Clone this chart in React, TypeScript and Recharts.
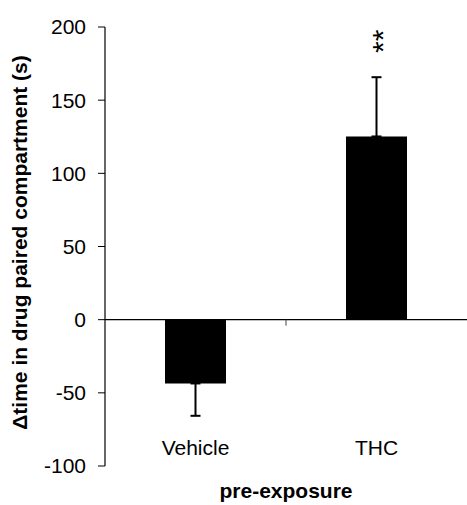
import React from 'react';
import { BarChart, Bar, XAxis, YAxis, ErrorBar, ReferenceLine, LabelList, Label } from 'recharts';

const categories = ['Vehicle', 'THC'];
const meanValues = [-43.6, 125.2];
const errorDown = [22.1, 0];
const errorUp = [0, 40.5];
const significance = ['', '**'];
const yTicks = [-100, -50, 0, 50, 100, 150, 200];

const data = categories.map((name, i) => ({
  name,
  value: meanValues[i],
  err: [errorDown[i], errorUp[i]],
  sig: significance[i]
}));

const FONT = '"Liberation Sans", Arial, sans-serif';

// zero line with the single tick between the two groups
const ZeroLine = (props: any) => {
  const { x1, y1, x2, y2 } = props;
  const mid = (x1 + x2) / 2;
  return (
    <g>
      <line x1={x1} y1={y1} x2={x2} y2={y2} stroke="#000" strokeWidth={1.2} />
      <line x1={mid} y1={y1} x2={mid} y2={y1 + 6} stroke="#444" strokeWidth={1} />
    </g>
  );
};

const CategoryTick = (props: any) => {
  const { x, y, payload } = props;
  return (
    <text x={x} y={y} dy={-11} textAnchor="middle" fontSize={21} fill="#000">
      {payload.value}
    </text>
  );
};

const SigLabel = (props: any) => {
  const { x, y, width, height, value, index } = props;
  if (!value) return null;
  const perUnit = height / meanValues[index];
  const errTop = y - errorUp[index] * perUnit;
  const cx = x + width / 2;
  const cy = errTop - 36;
  return (
    <text
      x={cx}
      y={cy}
      dy="0.55em"
      transform={`rotate(-90 ${cx} ${cy})`}
      textAnchor="middle"
      fontSize={30}
      fill="#000"
    >
      {value}
    </text>
  );
};

const YTitle = (props: any) => {
  const { viewBox } = props;
  const x = viewBox.x + 26.7;
  const y = viewBox.y + viewBox.height / 2 - 4;
  return (
    <text
      x={x}
      y={y}
      transform={`rotate(-90 ${x} ${y})`}
      textAnchor="middle"
      fontSize={21}
      fontWeight="bold"
      fill="#000"
    >
      Δtime in drug paired compartment (s)
    </text>
  );
};

export default function App() {
  return (
    <div style={{ position: 'absolute', left: 0, top: 0, background: '#fff' }}>
      <BarChart
        width={467}
        height={505}
        data={data}
        margin={{ top: 27, right: 0, left: 0, bottom: 0 }}
        style={{ fontFamily: FONT }}
      >
        <XAxis
          dataKey="name"
          height={39}
          axisLine={false}
          tickLine={false}
          tickSize={0}
          tickMargin={0}
          tick={<CategoryTick />}
        >
          <Label
            value="pre-exposure"
            position="insideBottom"
            offset={7}
            style={{ fontSize: 21, fontWeight: 'bold', fill: '#000' }}
          />
        </XAxis>
        <YAxis
          width={105}
          domain={[-100, 200]}
          ticks={yTicks}
          interval={0}
          tickSize={7}
          tickMargin={12}
          axisLine={{ stroke: '#000', strokeWidth: 1.2 }}
          tickLine={{ stroke: '#000', strokeWidth: 1 }}
          tick={{ fontSize: 21, fill: '#000' }}
        >
          <Label content={<YTitle />} />
        </YAxis>
        <Bar dataKey="value" fill="#000" barSize={61} isAnimationActive={false}>
          <ErrorBar dataKey="err" width={5} stroke="#000" strokeWidth={2} />
          <LabelList dataKey="sig" content={<SigLabel />} />
        </Bar>
        <ReferenceLine y={0} shape={<ZeroLine />} />
      </BarChart>
    </div>
  );
}
